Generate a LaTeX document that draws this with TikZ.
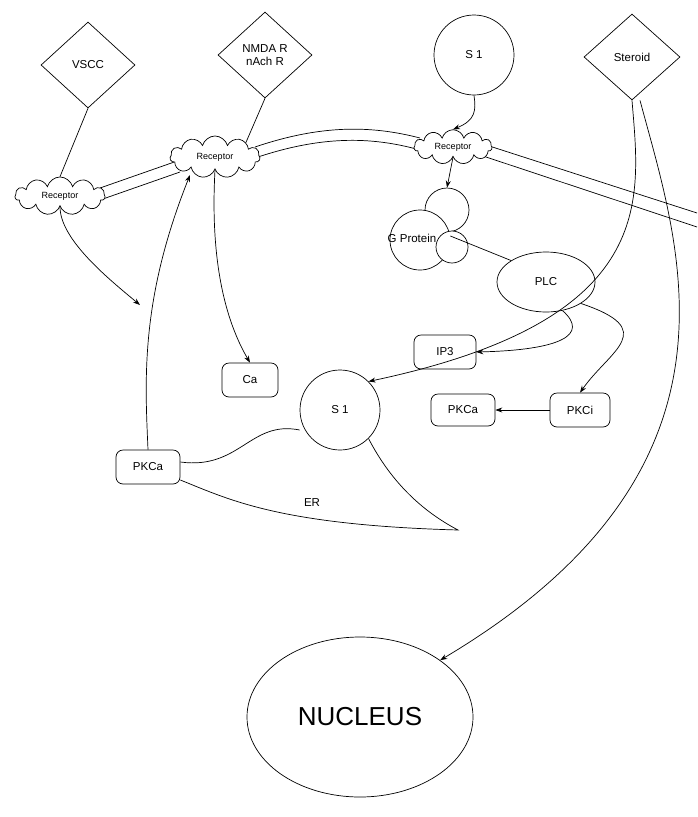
\documentclass[tikz,border=0pt]{standalone}
\usepackage{fontspec}
\setmainfont{Liberation Sans}
\usetikzlibrary{shapes.geometric,shapes.symbols,arrows.meta}
\begin{document}
\begin{tikzpicture}[x=1pt,y=-1pt,font=\fontsize{11.5}{13.5}\selectfont,
 dia/.style={draw,diamond,fill=white,minimum width=94pt,minimum height=86pt,inner sep=0pt,align=center},
 circ/.style={draw,circle,fill=white,inner sep=0pt},
 rbox/.style={draw,rounded corners=7pt,fill=white,minimum width=62pt,minimum height=34pt},
 cld/.style={draw,cloud,cloud puffs=11,aspect=2.3,fill=white,inner sep=1pt,font=\fontsize{9}{10}\selectfont},
 arr/.style={-{Stealth[length=7pt,width=5pt]}},
 line width=0.7pt]
\useasboundingbox (0,0) rectangle (697,817);
% membranes
\draw (100,188)--(180,160); \draw (100,200)--(180,172);
\draw (255,147) .. controls (320,125) and (370,125) .. (420,138);
\draw (255,158) .. controls (320,136) and (370,136) .. (420,150);
\draw (480,143)--(697,213); \draw (480,155)--(697,227);
% nodes
\node[dia] (vscc) at (88,65) {VSCC};
\node[dia] (nmda) at (265,55) {NMDA R\\nAch R};
\node[circ,minimum size=80pt] (s1a) at (474,55) {S 1};
\node[dia,minimum width=96pt] (ster) at (632,57) {Steroid};
\node[cld,minimum width=90pt,minimum height=38pt] (rl) at (60,196) {Receptor};
\node[cld,minimum width=90pt,minimum height=42pt] (rm) at (215,157) {Receptor};
\node[cld,minimum width=78pt,minimum height=34pt] (rr) at (453,147) {Receptor};
\node[circ,minimum size=44pt] (g1) at (447,210) {};
\node[circ,minimum size=60pt] (g2) at (420,240) {};
\node[circ,minimum size=32pt] (g3) at (452,247) {};
\node (gp) at (412,238) {G Protein};
\node[draw,ellipse,fill=white,minimum width=98pt,minimum height=60pt] (plc) at (546,282) {PLC};
\node[rbox] (ip3) at (445,352) {IP3};
\node[rbox,minimum width=56pt] (ca) at (250,380) {Ca};
\node[rbox,minimum width=64pt,minimum height=32pt] (pkca) at (463,410) {PKCa};
\node[rbox,minimum width=60pt] (pkci) at (580,410) {PKCi};
\node[rbox,minimum width=64pt] (pkcl) at (148,467) {PKCa};
\node[circ,minimum size=80pt] (s1b) at (340,410) {S 1};
\node[draw,ellipse,minimum width=226pt,minimum height=160pt] (nuc) at (360,717) {\fontsize{26}{30}\selectfont NUCLEUS};
% ER
\draw (pkcl.east |- 0,462) .. controls (240,470) and (250,420) .. (s1b.west |- 0,430);
\draw (pkcl.east |- 0,480) .. controls (230,500) and (280,525) .. (458,530)
      coordinate (ert) .. controls (420,510) and (390,480) .. (s1b.-45);
\node (er) at (312,503) {ER};
% connectors
\draw (vscc.south) -- (rl.north);
\draw (nmda.south) -- (rm.north east);
\draw[arr] (s1a.south) .. controls (476,110) and (476,120) .. (rr.north);
\draw[arr] (rr.south) -- (g1.north);
\draw (g2.east |- 0,236) -- (plc.north west);
\draw[arr] (rl.south) .. controls (60,240) and (110,280) .. (140,305);
\draw[arr] (pkcl.north) .. controls (145,380) and (140,300) .. (190,175);
\draw[arr] (rm.south) .. controls (210,260) and (225,320) .. (ca.north);
\draw[arr] (plc.-60) .. controls (590,335) and (560,350) .. (ip3.east);
\draw[arr] (plc.south east) .. controls (660,330) and (610,350) .. (pkci.north);
\draw[arr] (pkci.west) -- (pkca.east);
\draw[arr] (ster.south) .. controls (640,200) and (660,320) .. (s1b.north east);
\draw[arr] (ster.south) ++(8,0) .. controls (680,250) and (760,470) .. (nuc.north east);
\end{tikzpicture}
\end{document}
